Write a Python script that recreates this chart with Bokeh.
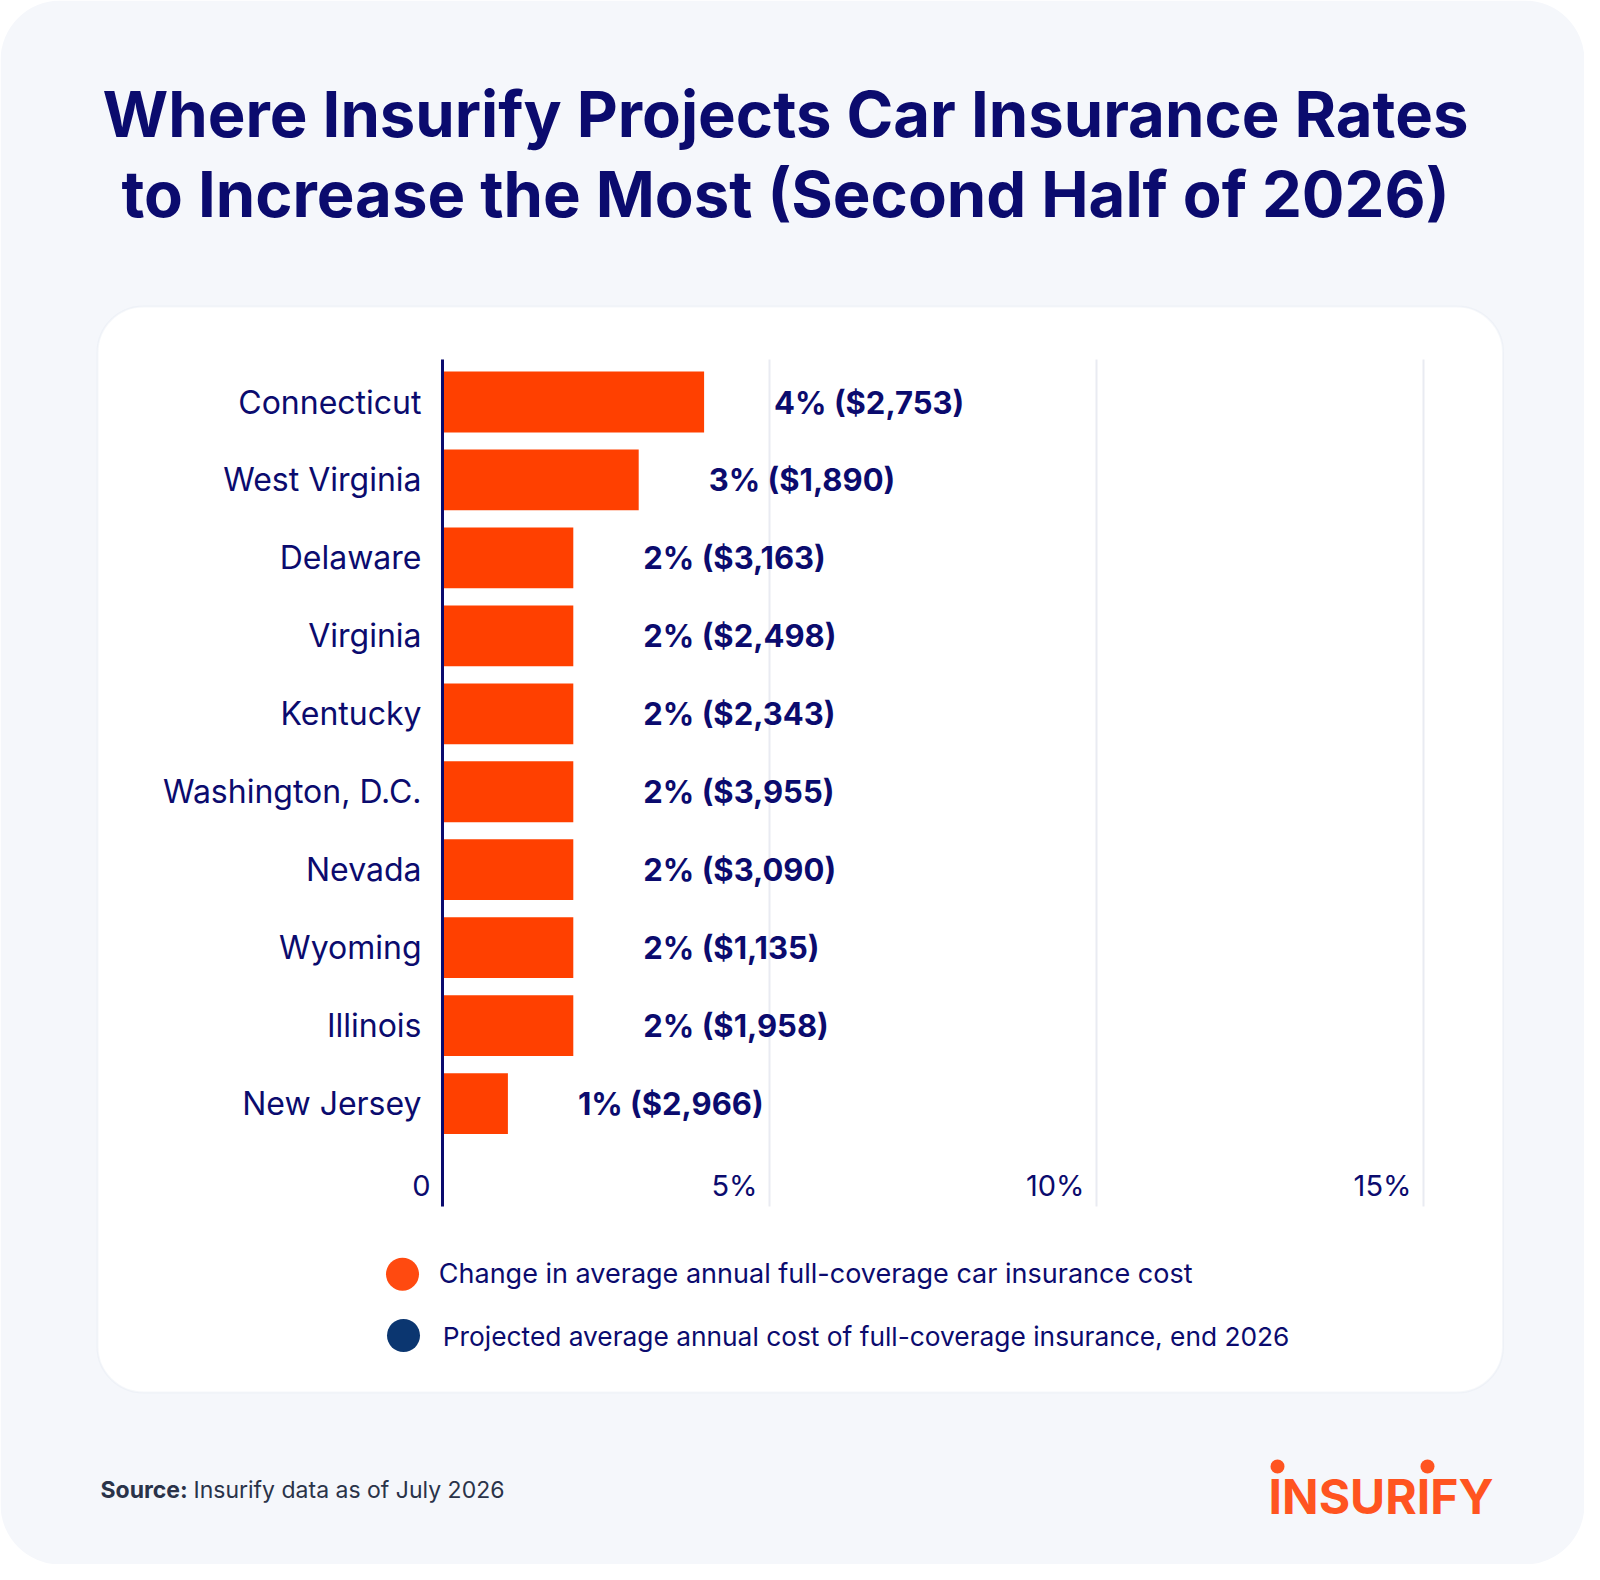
from bokeh.plotting import figure
from bokeh.models import ColumnDataSource, Range1d, BoxAnnotation, Label
from bokeh.embed import file_html
from bokeh.resources import INLINE
from bokeh.core.properties import value

# ---------------- data ----------------
states = ["Connecticut", "West Virginia", "Delaware", "Virginia", "Kentucky",
          "Washington, D.C.", "Nevada", "Wyoming", "Illinois", "New Jersey"]
pct_change = [4, 3, 2, 2, 2, 2, 2, 2, 2, 1]
projected_cost = [2753, 1890, 3163, 2498, 2343, 3955, 3090, 1135, 1958, 2966]
x_ticks = [0, 5, 10, 15]
x_tick_labels = ["0", "5%", "10%", "15%"]
legend_labels = ["Change in average annual full-coverage car insurance cost",
                 "Projected average annual cost of full-coverage insurance, end 2026"]
legend_colors = ["#ff4a10", "#0b3670"]
title_lines = ["Where Insurify Projects Car Insurance Rates",
               "to Increase the Most (Second Half of 2026)"]
source_head = "Source:"
source_text = "Insurify data as of July 2026"
brand = "INSURIFY"

# ---------------- styling / layout ----------------
NAVY = "#0b0b6e"
BAR = "#ff4000"
BRAND = "#ff5420"
PAGE_BG = "#f5f7fb"
FONT = "Inter"
F = value(FONT)

W, H = 1584, 1564
X0 = 442          # pixel of 0 %
PX_PER_PCT = 65.4
Y0 = 401.5        # pixel centre of first bar
BAND = 77.95
PLOT_TOP, PLOT_BOTTOM = 359, 1206


def dx(px):
    return (px - X0) / PX_PER_PCT


def dy(py):
    return (py - Y0) / BAND


p = figure(width=W, height=H, output_backend="svg", toolbar_location=None,
           x_range=Range1d(dx(0), dx(W)), y_range=Range1d(dy(H), dy(0)),
           x_axis_location=None, y_axis_location=None, min_border=0)
p.border_fill_color = "white"
p.background_fill_color = "white"
p.outline_line_color = None
p.grid.visible = False

# page background and card
p.add_layout(BoxAnnotation(left=dx(0), right=dx(W), top=dy(0), bottom=dy(H),
                           fill_color=PAGE_BG, fill_alpha=1, line_color=None,
                           border_radius=60, level="image"))
p.add_layout(BoxAnnotation(left=dx(97), right=dx(1502.5), top=dy(306), bottom=dy(1392),
                           fill_color="white", fill_alpha=1, line_color="#dde3ee",
                           line_width=2, border_radius=46, level="image"))

# vertical grid lines at the ticks
p.segment(x0=x_ticks, x1=x_ticks, y0=dy(PLOT_TOP), y1=dy(PLOT_BOTTOM),
          line_color="#e9ebf2", line_width=2)

yvals = list(range(len(states)))
src = ColumnDataSource(dict(
    y=yvals,
    pct=pct_change,
    state=states,
    label=[f"{v}% (${c:,})" for v, c in zip(pct_change, projected_cost)],
))

# bars
p.hbar(y="y", left=0, right="pct", height=0.78, source=src,
       fill_color=BAR, line_color=None)

# axis line
p.segment(x0=[0], x1=[0], y0=dy(PLOT_TOP), y1=dy(PLOT_BOTTOM),
          line_color=NAVY, line_width=3)

# category labels
p.text(x=0, y="y", text="state", source=src, x_offset=-21,
       text_align="right", text_baseline="middle", text_font=F,
       text_font_size="32px", text_color=NAVY)

# value labels
p.text(x="pct", y="y", text="label", source=src, x_offset=70,
       text_baseline="middle", text_align="left", text_font=F,
       text_font_style="bold", text_font_size="31px", text_color=NAVY)

# x tick labels
p.text(x=x_ticks, y=[dy(1185)] * len(x_ticks), text=x_tick_labels, x_offset=-12,
       text_align="right", text_baseline="middle", text_font=F,
       text_font_size="29px", text_color=NAVY)

# title
for line, mid in zip(title_lines, [113, 193]):
    p.add_layout(Label(x=dx(785), y=dy(mid), text=line, text_align="center",
                       text_baseline="middle", text_font=FONT,
                       text_font_style="bold", text_font_size="63.4px",
                       text_color=NAVY))

# legend
p.scatter(x=[dx(402), dx(403)], y=[dy(1273.7), dy(1335)], size=33,
          marker="circle", fill_color=legend_colors, line_color=None)
for lab, tx, ty, fs in zip(legend_labels, [438.3, 442.3], [1272.7, 1336],
                           ["27px", "26.3px"]):
    p.add_layout(Label(x=dx(tx), y=dy(ty), text=lab, text_align="left",
                       text_baseline="middle", text_font=FONT,
                       text_font_size=fs, text_color=NAVY))

# source
p.add_layout(Label(x=dx(100), y=dy(1489), text=source_head, text_font=FONT,
                   text_font_style="bold", text_font_size="23px",
                   text_color="#2a3349", text_baseline="middle"))
p.add_layout(Label(x=dx(193), y=dy(1489), text=source_text, text_font=FONT,
                   text_font_size="23px", text_color="#2a3349",
                   text_baseline="middle"))

# brand logo
p.add_layout(Label(x=dx(1493), y=dy(1496), text=brand, text_align="right",
                   text_font=FONT, text_font_style="bold", text_font_size="48px",
                   text_color=BRAND, text_baseline="middle"))
p.scatter(x=[dx(1277), dx(1427)], y=[dy(1466), dy(1466)], size=14,
          marker="circle", fill_color=BRAND, line_color=None)

open("out.html", "w").write(file_html(p, INLINE))
